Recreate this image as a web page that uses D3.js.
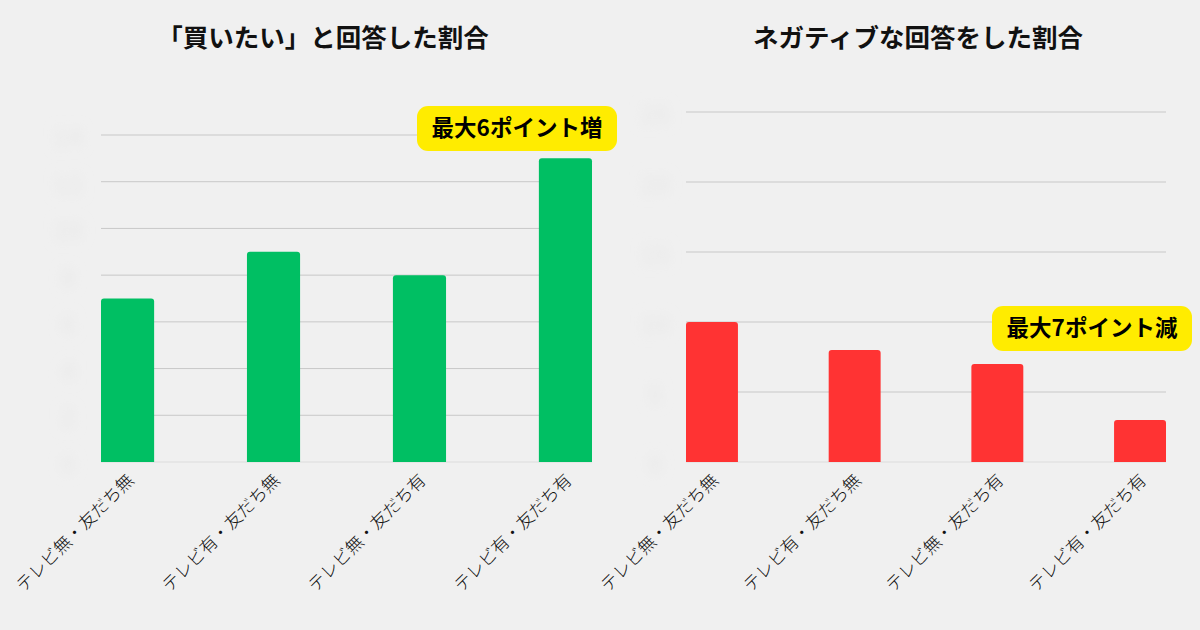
<!DOCTYPE html>
<html><head><meta charset="utf-8">
<script src="https://cdn.jsdelivr.net/npm/d3@7"></script>
<style>
html,body{margin:0;padding:0;background:#f0f0f0;}
svg{display:block;font-family:"Noto Sans CJK JP","Noto Sans",sans-serif;}
</style></head>
<body>
<svg id="c" width="1200" height="630"></svg>
<script>
const categories = ["テレビ無・友だち無","テレビ有・友だち無","テレビ無・友だち有","テレビ有・友だち有"];
const buyValues = [7, 9, 8, 13];
const negValues = [10, 8, 7, 3];
const buyTicks = [0, 2, 4, 6, 8, 10, 12, 14];
const negTicks = [0, 5, 10, 15, 20, 25];
const titles = ["「買いたい」と回答した割合", "ネガティブな回答をした割合"];
const badges = ["最大6ポイント増", "最大7ポイント減"];

const svg = d3.select("#c");
svg.append("rect").attr("width",1200).attr("height",630).attr("fill","#f0f0f0");
const defs = svg.append("defs");
defs.append("filter").attr("id","blur").attr("x","-50%").attr("y","-50%").attr("width","200%").attr("height","200%")
  .append("feGaussianBlur").attr("stdDeviation",6);

function barPath(x, y, w, h, r){
  r = Math.min(r, h);
  return `M${x},${y+h}V${y+r}Q${x},${y} ${x+r},${y}H${x+w-r}Q${x+w},${y} ${x+w},${y+r}V${y+h}Z`;
}

function panel(cfg){
  const g = svg.append("g");
  const x = d3.scaleBand().domain(categories).range(cfg.xr).paddingInner(0.636).paddingOuter(0);
  const y = d3.scaleLinear().domain([0, d3.max(cfg.ticks)]).range([462, cfg.top]);

  // ghost tick labels (heavily blurred, as in the reference)
  g.append("g").attr("filter","url(#blur)").selectAll("text").data(cfg.ticks).join("text")
    .attr("x", cfg.ghostX).attr("y", d => y(d) + 5).attr("text-anchor","middle")
    .attr("dominant-baseline","middle").attr("font-size",26).attr("font-weight",700)
    .attr("fill","#e9e9e9").text(d => d);

  // grid
  g.append("g").selectAll("line").data(cfg.ticks).join("line")
    .attr("x1", cfg.xr[0]).attr("x2", cfg.xr[1])
    .attr("y1", d => y(d)).attr("y2", d => y(d))
    .attr("stroke", d => d === 0 ? "#dcdcdc" : "#c8c8c8").attr("stroke-width",1);

  // bars
  g.append("g").selectAll("path").data(cfg.values).join("path")
    .attr("d", (d,i) => barPath(x(categories[i]), y(d), x.bandwidth(), 462 - y(d), 3))
    .attr("fill", cfg.color);

  // x labels
  g.append("g").selectAll("text").data(categories).join("text")
    .attr("transform", d => `translate(${x(d) + x.bandwidth()/2 + 4},${478}) rotate(-45)`)
    .attr("text-anchor","end").attr("dominant-baseline","middle")
    .attr("font-size",17.5).attr("font-weight",300).attr("fill","#111").text(d => d);

  // title
  g.append("text").attr("x", cfg.titleX).attr("y", 40).attr("text-anchor","middle")
    .attr("dominant-baseline","middle").attr("font-size",25.5).attr("font-weight",700)
    .attr("fill","#111").text(cfg.title);

  // badge
  const b = cfg.badge;
  g.append("rect").attr("x", b.x).attr("y", b.y).attr("width", b.w).attr("height", b.h)
    .attr("rx", 11).attr("fill", "#ffec00");
  g.append("text").attr("x", b.x + b.w/2).attr("y", b.y + b.h/2 + 1).attr("text-anchor","middle")
    .attr("dominant-baseline","middle").attr("font-size",22.5).attr("font-weight",700)
    .attr("fill","#000").text(b.text);
}

panel({xr:[101,592], top:135, ticks:buyTicks, values:buyValues, color:"#00bf63",
  ghostX:68, titleX:323, title:titles[0],
  badge:{x:417, y:106, w:200, h:45, text:badges[0]}});
panel({xr:[686,1166], top:112, ticks:negTicks, values:negValues, color:"#ff3333",
  ghostX:655, titleX:918, title:titles[1],
  badge:{x:992, y:306, w:200, h:45, text:badges[1]}});
</script>
</body></html>
